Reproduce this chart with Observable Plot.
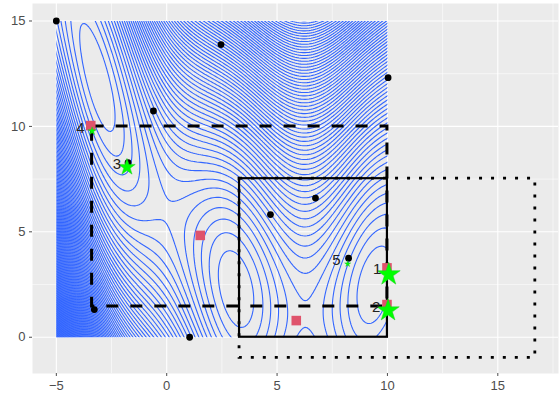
<!DOCTYPE html>
<html><head><meta charset="utf-8">
<script src="https://cdn.jsdelivr.net/npm/d3@7"></script>
<script src="https://cdn.jsdelivr.net/npm/@observablehq/plot@0.6"></script>
<style>body{margin:0;background:#fff;} svg{display:block;}</style>
</head><body><div id="chart"></div>
<script>
// ---- data ----
const dotX = [-5, 2.46, 10.03, -0.6, -1.75, -3.28, 1.04, 4.70, 6.74, 8.24];
const dotY = [15, 13.88, 12.31, 10.73, 8.28, 1.31, 0, 5.82, 6.60, 3.75];

const squareX = [-3.44, 1.52, 5.87, 9.98, 9.98];
const squareY = [10.04, 4.83, 0.79, 3.29, 1.55];

const starLabel = ["1", "2", "3", "4", "5"];
const starX = [10.06, 10.03, -1.80, -3.38, 8.20];
const starY = [2.98, 1.27, 8.07, 9.78, 3.48];
const starScore = [1, 0.95, 0.52, 0.12, 0.07];
const labelX = [9.53, 9.49, -2.25, -3.91, 7.69];
const labelY = [3.21, 1.42, 8.23, 9.92, 3.67];

const boxType = ["dashed", "solid", "dotted"];
const boxX1 = [-3.38, 3.3, 3.3];
const boxX2 = [10, 10, 16.7];
const boxY1 = [1.46, 0, -0.98];
const boxY2 = [10, 7.52, 7.52];

const xTicks = [-5, 0, 5, 10, 15];
const xMinor = [-2.5, 2.5, 7.5, 12.5, 17.5];
const yTicks = [0, 5, 10, 15];
const yMinor = [2.5, 7.5, 12.5];

// contour surface: Branin function over [-5,10] x [0,15]
const domainX = [-5, 10];
const domainY = [0, 15];
function branin(x, y) {
  const b = 5.1 / (4 * Math.PI ** 2), c = 5 / Math.PI, t = 1 / (8 * Math.PI);
  return (y - b * x * x + c * x - 6) ** 2 + 10 * (1 - t) * Math.cos(x) + 10;
}
const contourLevels = d3.range(1, 100).map(i => i * 330 / 99);

// ---- tables ----
const dots = dotX.map((x, i) => ({x, y: dotY[i]}));
const squares = squareX.map((x, i) => ({x, y: squareY[i]}));
const stars = starX.map((x, i) => ({x, y: starY[i], score: starScore[i], label: starLabel[i], lx: labelX[i], ly: labelY[i]}));
const boxes = boxType.map((type, i) => ({type, x1: boxX1[i], x2: boxX2[i], y1: boxY1[i], y2: boxY2[i]}));

const pad = 0.4;
const plot = Plot.plot({
  width: 559, height: 402,
  marginLeft: 32, marginRight: 1, marginTop: 3, marginBottom: 29,
  style: {fontFamily: "'Liberation Sans', Arial, sans-serif", fontSize: "13px", background: "#fff"},
  x: {domain: [-6.08, 17.75]},
  y: {domain: [-1.72, 15.83]},
  r: {domain: [0, 1], range: [0, 7.2]},
  marks: [
    Plot.frame({fill: "#EBEBEB"}),
    Plot.gridX(xMinor, {stroke: "#fff", strokeOpacity: 1, strokeWidth: 0.55}),
    Plot.gridY(yMinor, {stroke: "#fff", strokeOpacity: 1, strokeWidth: 0.55}),
    Plot.gridX(xTicks, {stroke: "#fff", strokeOpacity: 1, strokeWidth: 1.1}),
    Plot.gridY(yTicks, {stroke: "#fff", strokeOpacity: 1, strokeWidth: 1.1}),
    Plot.axisX(xTicks, {tickSize: 3, tickPadding: 4, color: "#4D4D4D", label: null, fontSize: 13}),
    Plot.axisY(yTicks, {tickSize: 3, tickPadding: 4, color: "#4D4D4D", label: null, fontSize: 13}),
    Plot.contour({
      value: branin,
      x1: domainX[0] - pad, x2: domainX[1] + pad, y1: domainY[0] - pad, y2: domainY[1] + pad,
      thresholds: contourLevels,
      fill: "none", stroke: "#3366FF", strokeWidth: 1.1, className: "branin-contour"
    }),
    Plot.rect(boxes.filter(d => d.type === "solid"), {x1: "x1", x2: "x2", y1: "y1", y2: "y2", fill: "none", stroke: "#000", strokeWidth: 2.2}),
    Plot.rect(boxes.filter(d => d.type === "dashed"), {x1: "x1", x2: "x2", y1: "y1", y2: "y2", fill: "none", stroke: "#000", strokeWidth: 3, strokeDasharray: "12,12"}),
    Plot.rect(boxes.filter(d => d.type === "dotted"), {x1: "x1", x2: "x2", y1: "y1", y2: "y2", fill: "none", stroke: "#000", strokeWidth: 2.8, strokeDasharray: "3,9"}),
    Plot.dot(squares, {x: "x", y: "y", symbol: "square", r: 5.4, fill: "#DF536B", stroke: null}),
    Plot.dot(dots, {x: "x", y: "y", r: 3.4, fill: "#000", stroke: null}),
    Plot.dot(stars, {x: "x", y: "y", symbol: "star", r: "score", fill: "#00FF00", stroke: "#22CC22", strokeWidth: 0.5}),
    Plot.text(stars, {x: "lx", y: "ly", text: "label", fill: "#222", fontSize: 15})
  ]
});

// clip the contour lines to the function's domain
const xs = plot.scale("x"), ys = plot.scale("y");
const ns = "http://www.w3.org/2000/svg";
const defs = document.createElementNS(ns, "defs");
const cp = document.createElementNS(ns, "clipPath");
cp.setAttribute("id", "domainClip");
const cr = document.createElementNS(ns, "rect");
cr.setAttribute("x", xs.apply(domainX[0]));
cr.setAttribute("y", ys.apply(domainY[1]));
cr.setAttribute("width", xs.apply(domainX[1]) - xs.apply(domainX[0]));
cr.setAttribute("height", ys.apply(domainY[0]) - ys.apply(domainY[1]));
cp.appendChild(cr); defs.appendChild(cp);
plot.insertBefore(defs, plot.firstChild);
let groups = Array.from(plot.querySelectorAll(".branin-contour"));
if (!groups.length) groups = Array.from(plot.querySelectorAll('g[aria-label="contour"]'));
for (const g of groups) g.setAttribute("clip-path", "url(#domainClip)");

document.getElementById("chart").appendChild(plot);
</script>
</body></html>
